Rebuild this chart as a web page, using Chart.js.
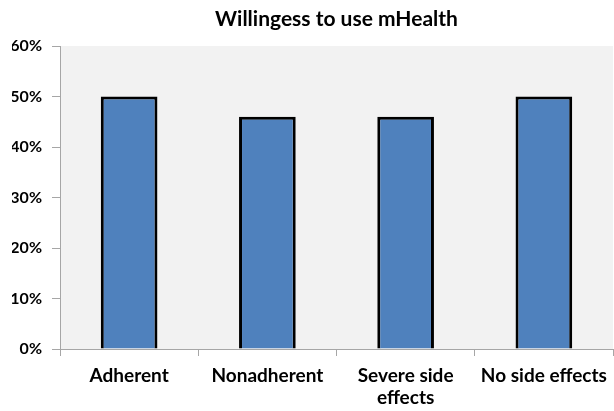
<!DOCTYPE html>
<html><head><meta charset="utf-8">
<script src="https://cdn.jsdelivr.net/npm/chart.js@4"></script>
<style>html,body{margin:0;padding:0;background:#fff}#wrap{width:614px;height:411px}</style>
</head><body><div id="wrap"><canvas id="c"></canvas></div>
<script>
const categories = [["Adherent"], ["Nonadherent"], ["Severe side", "effects"], ["No side effects"]];
const values = [50, 46, 46, 50];
const yTicks = [0, 10, 20, 30, 40, 50, 60];

const bgPlugin = {
  id: 'bg',
  beforeDraw(chart) {
    const {ctx, chartArea: a} = chart;
    ctx.save();
    ctx.fillStyle = '#f2f2f2';
    ctx.fillRect(a.left, a.top, a.right - a.left, a.bottom - a.top);
    ctx.restore();
  }
};
const FONT = "Lato, 'Open Sans', sans-serif";
new Chart(document.getElementById('c'), {
  type: 'bar',
  data: {
    labels: categories,
    datasets: [{
      data: values,
      backgroundColor: '#4f81bd',
      borderColor: '#000000',
      borderWidth: 3,
      categoryPercentage: 1,
      barPercentage: 0.41
    }]
  },
  options: {
    responsive: true,
    maintainAspectRatio: false,
    animation: false,
    layout: { padding: { top: 5, right: 1, left: 12, bottom: 0 } },
    plugins: {
      legend: { display: false },
      tooltip: { enabled: false },
      title: {
        display: true,
        fullSize: false,
        text: 'Willingess to use mHealth',
        color: '#000',
        font: { family: FONT, size: 21, weight: 'bold', lineHeight: 1.2 },
        padding: { top: 2, bottom: 13.8 }
      }
    },
    scales: {
      x: {
        afterFit(s) { s.height = 62; s.paddingLeft = 0; s.paddingRight = 0; },
        grid: { display: true, drawOnChartArea: false, drawTicks: true, tickLength: 7, color: '#a6a6a6', offset: true },
        border: { color: '#a6a6a6', width: 1 },
        ticks: { color: '#000', font: { family: FONT, size: 19, weight: 'bold', lineHeight: 1.15 }, padding: 9, maxRotation: 0 }
      },
      y: {
        min: 0, max: 60,
        afterFit(s) { s.width = 48; s.paddingTop = 0; s.paddingBottom = 0; },
        afterBuildTicks(axis) { axis.ticks = yTicks.map(v => ({ value: v })); },
        grid: { display: true, drawOnChartArea: false, drawTicks: true, tickLength: 8, color: '#a6a6a6' },
        border: { color: '#a6a6a6', width: 1 },
        ticks: { color: '#000', font: { family: FONT, size: 16, weight: 'bold' }, padding: 10, callback: v => v + '%' }
      }
    }
  },
  plugins: [bgPlugin]
});
</script></body></html>
